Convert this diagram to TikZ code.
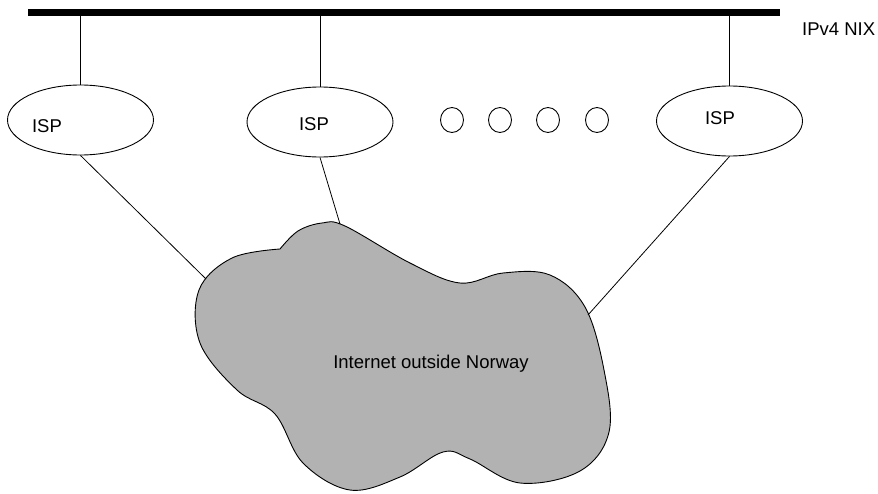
\documentclass[tikz,border=0pt]{standalone}
\usepackage{fontspec}
\setmainfont{Liberation Sans}
\usetikzlibrary{shapes.geometric}
\definecolor{cloudgray}{HTML}{B2B2B2}
\begin{document}
\begin{tikzpicture}[x=1pt,y=-1pt,
  isp/.style={draw,ellipse,line width=0.9pt,inner sep=0pt,minimum width=146pt,minimum height=70pt},
  dot/.style={draw,ellipse,line width=0.9pt,inner sep=0pt,minimum width=23pt,minimum height=25pt},
  lbl/.style={font=\fontsize{18.5}{20}\selectfont,inner sep=0pt},
  link/.style={line width=0.8pt}]
\useasboundingbox (0,0) rectangle (878,493);
% backbone
\coordinate (barL) at (28,12);
\coordinate (barR) at (780,12);
\draw[line width=7pt] (barL) -- (barR);
\node[lbl,anchor=base west] (nix) at (802,35) {IPv4 NIX};
% ISPs
\node[isp] (e1) at (80.5,120) {};
\node[isp] (e2) at (320,122) {};
\node[isp] (e3) at (729.5,121) {};
\node[lbl] (t1) at (47,126) {ISP};
\node[lbl] (t2) at (314,124) {ISP};
\node[lbl] (t3) at (720,118) {ISP};
\node[dot] (d1) at (452,120) {};
\node[dot] (d2) at (500,120) {};
\node[dot] (d3) at (548,120) {};
\node[dot] (d4) at (597,120) {};
\draw[link] (e1.north) -- (e1.north |- barL);
\draw[link] (e2.north) -- (e2.north |- barL);
\draw[link] (e3.north) -- (e3.north |- barL);
% cloud
\draw[fill=cloudgray,line width=0.9pt,line join=round] plot[smooth,tension=0.6] coordinates {
 (280,249) (298,231) (322,223) (345,226) (410,263) (460,283)
 (503,273) (550,275) (585,307) (604,370) (609,432) (580,471) (520,483)
 (470,459) (443,452) (400,477) (350,490) (303,463) (275,414)
 (237,390) (200,343) (199,290) (232,258) (280,249)} -- cycle;
\coordinate (c1) at (206,279);
\coordinate (c2) at (340,224);
\coordinate (c3) at (588,315);
\node[lbl] (net) at (431,364) {Internet outside Norway};
\draw[link] (e1.south) -- (c1);
\draw[link] (e2.south) -- (c2);
\draw[link] (e3.south) -- (c3);
\end{tikzpicture}
\end{document}
